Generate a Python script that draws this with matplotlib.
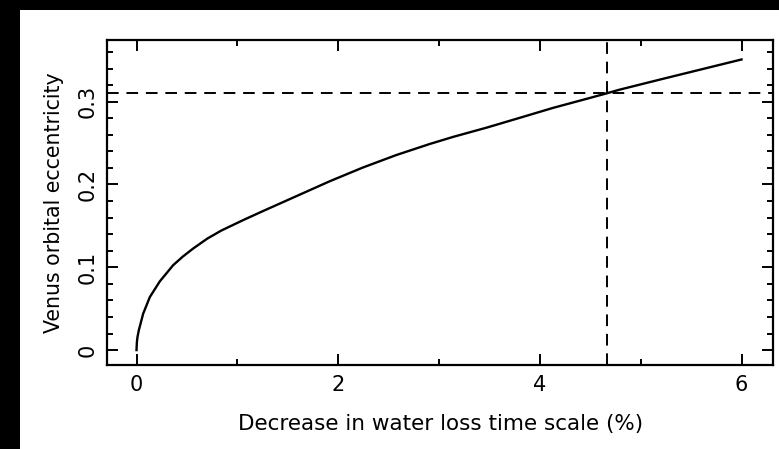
import matplotlib
matplotlib.use('Agg')
import matplotlib.pyplot as plt
from matplotlib.ticker import MultipleLocator
from matplotlib.patches import Rectangle

# values
decrease = [0.0, 0.004, 0.01, 0.023, 0.066, 0.132, 0.231, 0.363, 0.46, 0.56, 0.7, 0.843,
            1.058, 1.256, 1.587, 1.918, 2.245, 2.577, 2.91, 3.14, 3.47, 3.80, 4.13, 4.465,
            4.66, 4.79, 5.2, 5.6, 6.0]
eccentricity = [0.0, 0.010, 0.016, 0.024, 0.044, 0.064, 0.083, 0.1025, 0.113, 0.1225, 0.1345,
                0.1445, 0.157, 0.168, 0.186, 0.204, 0.2205, 0.2356, 0.249, 0.2575, 0.2686,
                0.2805, 0.2925, 0.3035, 0.31, 0.3145, 0.327, 0.339, 0.351]
mark_x = 4.67
mark_y = 0.31
xticks = [0, 2, 4, 6]
yticks = [0, 0.1, 0.2, 0.3]
ytick_labels = ['0', '0.1', '0.2', '0.3']

fig = plt.figure(figsize=(7.79, 4.49), dpi=100, facecolor='black')
# white page on black surround
fig.patches.append(Rectangle((20 / 779, 0), 1, 1 - 10 / 449, transform=fig.transFigure,
                             facecolor='white', edgecolor='none', zorder=-10))

ax = fig.add_axes([0.1377, 0.1871, 0.9927 - 0.1377, 0.9109 - 0.1871])
ax.plot(decrease, eccentricity, color='black', lw=1.7)
ax.axhline(mark_y, color='black', lw=1.4, linestyle=(0, (6, 4)))
ax.axvline(mark_x, color='black', lw=1.4, linestyle=(0, (6, 4)))

ax.set_xlim(-0.29, 6.315)
ax.set_ylim(-0.018, 0.3745)
ax.set_xticks(xticks)
ax.set_xticklabels([str(t) for t in xticks])
ax.xaxis.set_minor_locator(MultipleLocator(1))
ax.set_yticks(yticks)
ax.set_yticklabels(ytick_labels, rotation=90, va='center')
ax.yaxis.set_minor_locator(MultipleLocator(0.02))

ax.tick_params(which='both', direction='in', top=True, right=True, width=1.4, colors='black')
ax.tick_params(which='major', length=8, labelsize=15, pad=7)
ax.tick_params(which='minor', length=4.5)
for s in ax.spines.values():
    s.set_linewidth(1.6)

ax.set_xlabel('Decrease in water loss time scale (%)', fontsize=15.5, labelpad=14)
ax.set_ylabel('Venus orbital eccentricity', fontsize=14.8, labelpad=10)

fig.savefig('out.png', dpi=100, facecolor=fig.get_facecolor())
